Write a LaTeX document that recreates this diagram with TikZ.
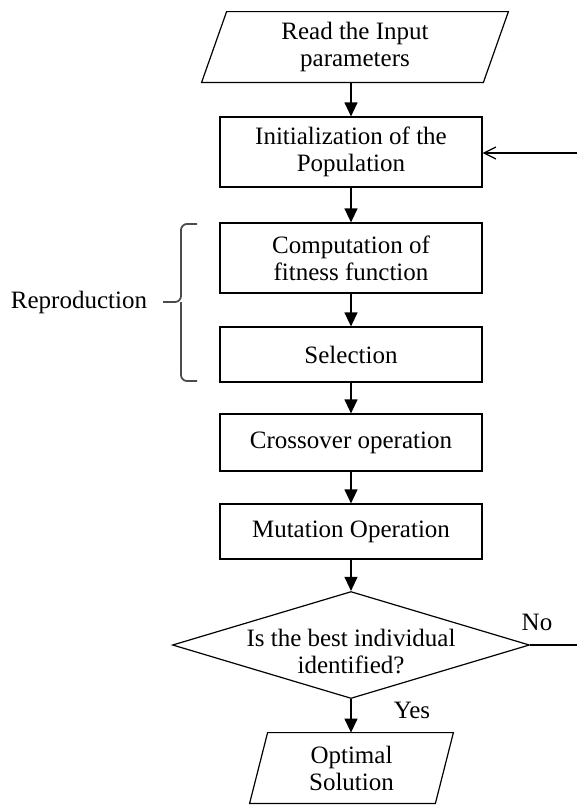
\documentclass[tikz,border=0pt]{standalone}
\usepackage{fontspec}
\setmainfont{Liberation Serif}
\usetikzlibrary{arrows.meta,shapes.geometric}

\tikzset{
  box/.style={draw, line width=0.6pt, minimum width=131pt, align=center, inner sep=2pt},
  io/.style={minimum height=35pt, align=center, inner sep=0pt},
  flow/.style={line width=0.6pt, -{Triangle[length=7pt,width=6.5pt]}},
  back/.style={line width=0.6pt, -{Straight Barb[length=6pt,width=6pt]}},
  brace/.style={line width=0.9pt, gray!60!black, rounded corners=3pt},
}

\begin{document}
\begin{tikzpicture}[x=0.5pt,y=-0.5pt,font=\fontsize{12.5}{13.5}\selectfont]
  \useasboundingbox (0,0) rectangle (577,805);

  % input
  \node[io, minimum width=128pt] (read) at (355,47) {Read the Input\\parameters};
  \draw[line width=0.6pt] ([xshift=-12.5pt]read.south west) -- (read.north west)
    -- ([xshift=12.5pt]read.north east) -- (read.south east) -- cycle;

  % steps
  \node[box, minimum height=35pt] (init) at (351,152) {Initialization of the\\Population};
  \node[box, minimum height=35pt] (fit) at (351,258) {Computation of\\fitness function};
  \node[box, minimum height=27.5pt] (sel) at (351,354.5) {Selection};
  \node[box, minimum height=28.5pt] (cross) at (351,442.5) {Crossover operation};
  \node[box, minimum height=27.5pt] (mut) at (351,531.5) {Mutation Operation};

  % decision
  \node[diamond, draw, line width=0.6pt, minimum width=178.5pt, minimum height=53.5pt, inner sep=0pt,
    label={[align=center,yshift=-3pt]center:{Is the best individual\\identified?}}] (test) at (351,645) {};

  % output
  \node[io, minimum width=83.5pt] (opt) at (351.5,768) {Optimal\\Solution};
  \draw[line width=0.6pt] ([xshift=-9pt]opt.south west) -- (opt.north west)
    -- ([xshift=9pt]opt.north east) -- (opt.south east) -- cycle;

  \draw[flow] (read.south -| init.north) -- (init);
  \draw[flow] (init) -- (fit);
  \draw[flow] (fit) -- (sel);
  \draw[flow] (sel) -- (cross);
  \draw[flow] (cross) -- (mut);
  \draw[flow] (mut) -- (test);
  \draw[flow] (test) -- (opt.north -| test.south);

  % loop back
  \coordinate (loopin) at (577,153);
  \coordinate (noend) at (577,645);
  \draw[back] (loopin) -- (loopin -| init.east);
  \draw[line width=0.6pt] (test.east) -- (noend);
  \node (no) at (537,622) {No};
  \node (yes) at (412,710) {Yes};

  % reproduction brace
  \draw[brace] (197,224) -- (181,224) -- (181,302) -- (163,302);
  \draw[brace] (197,381) -- (181,381) -- (181,302);
  \node (repro) at (79,302) {Reproduction};
\end{tikzpicture}
\end{document}
